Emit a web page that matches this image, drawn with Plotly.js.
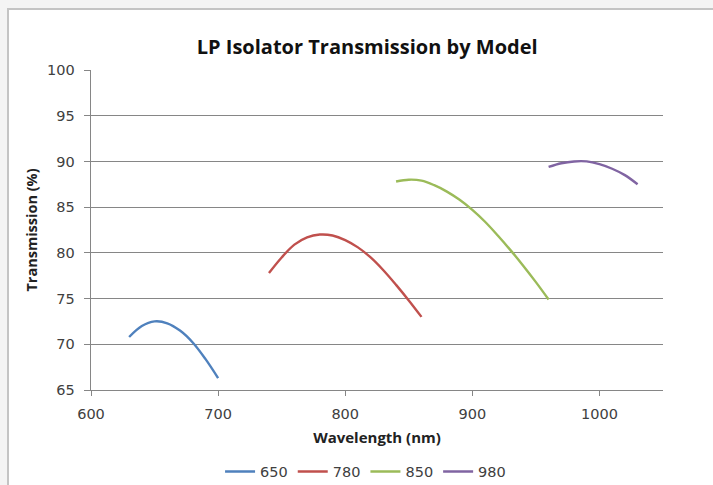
<!DOCTYPE html>
<html><head><meta charset="utf-8">
<script src="https://cdn.plot.ly/plotly-3.0.1.min.js"></script>
<style>
html,body{margin:0;padding:0;background:#f4f4f4;overflow:hidden}
#frame{position:absolute;left:7px;top:8px;width:720px;height:500px;background:#fff;border-left:2px solid #c4c4c4;border-top:2px solid #c4c4c4}
#chart{position:absolute;left:0;top:0;width:713px;height:485px}
</style></head>
<body>
<div id="frame"></div>
<div id="chart"></div>
<script>
const seriesNames = ["650", "780", "850", "980"];
const colors = ["#4F81BD", "#C0504D", "#9BBB59", "#8064A2"];

const wl650 = [630, 640, 650, 660, 670, 680, 690, 700];
const tr650 = [70.8, 72.0, 72.5, 72.3, 71.5, 70.2, 68.4, 66.3];

const wl780 = [740, 750, 760, 770, 780, 790, 800, 810, 820, 830, 840, 850, 860];
const tr780 = [77.8, 79.5, 80.9, 81.7, 82.0, 81.9, 81.4, 80.6, 79.5, 78.1, 76.5, 74.8, 73.0];

const wl850 = [840, 850, 860, 870, 880, 890, 900, 910, 920, 930, 940, 950, 960];
const tr850 = [87.8, 88.0, 87.9, 87.4, 86.7, 85.8, 84.7, 83.4, 81.9, 80.3, 78.6, 76.8, 74.9];

const wl980 = [960, 970, 980, 990, 1000, 1010, 1020, 1030];
const tr980 = [89.4, 89.8, 90.0, 90.0, 89.7, 89.2, 88.5, 87.5];

const xs = [wl650, wl780, wl850, wl980];
const ys = [tr650, tr780, tr850, tr980];

const traces = seriesNames.map((n, i) => ({
  x: xs[i], y: ys[i], name: n, type: 'scatter', mode: 'lines',
  line: {color: colors[i], width: 2.4, shape: 'spline', smoothing: 1}
}));

const tickFont = {family: 'DejaVu Sans', size: 14.5, color: '#404040'};
const layout = {
  width: 713, height: 485,
  margin: {l: 91, r: 50, t: 70, b: 95, autoexpand: false},
  paper_bgcolor: 'rgba(0,0,0,0)', plot_bgcolor: '#fff',
  title: {text: '<b>LP Isolator Transmission by Model</b>', font: {family: 'Open Sans', size: 20, color: '#111'}, x: 0.515, xanchor: 'center', y: 0.903, yanchor: 'middle'},
  xaxis: {range: [600, 1050], tickvals: [600, 700, 800, 900, 1000], showgrid: false, zeroline: false,
    showline: true, linecolor: '#868686', linewidth: 1.3, ticks: 'outside', ticklen: 5, tickcolor: '#868686',
    tickfont: tickFont, ticklabelstandoff: 5, automargin: false,
    title: {text: '<b>Wavelength (nm)</b>', font: {family: 'Open Sans', size: 15, color: '#222'}, standoff: 11}},
  yaxis: {range: [65, 100], dtick: 5, showgrid: true, gridcolor: '#868686', gridwidth: 1.2, zeroline: false,
    showline: true, linecolor: '#868686', linewidth: 1.3, ticks: 'outside', ticklen: 6, tickcolor: '#868686',
    tickfont: tickFont, ticklabelstandoff: 6, automargin: false,
    title: {text: '<b>Transmission (%)</b>', font: {family: 'Open Sans', size: 14.5, color: '#222'}, standoff: 6}},
  showlegend: true,
  legend: {orientation: 'h', x: 0.48, xanchor: 'center', y: -0.255, yanchor: 'middle',
    font: {family: 'DejaVu Sans', size: 14.5, color: '#404040'}, itemwidth: 30, bgcolor: 'rgba(0,0,0,0)'}
};
Plotly.newPlot('chart', traces, layout, {displayModeBar: false, staticPlot: true});
</script>
</body></html>
